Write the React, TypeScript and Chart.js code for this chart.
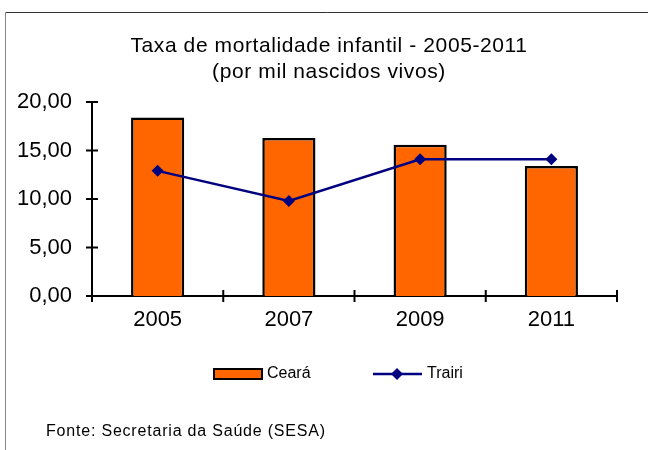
import React, { useEffect, useRef } from "react";
import { Chart, registerables } from "chart.js";

Chart.register(...registerables);

const categories = ["2005", "2007", "2009", "2011"];
const cearaValues = [18.4, 16.3, 15.6, 13.4];
const trairiValues = [12.9, 9.8, 14.1, 14.1];
const titleLines = ["Taxa de mortalidade infantil - 2005-2011", "(por mil nascidos vivos)"];
const seriesNames = ["Ceará", "Trairi"];
const footerText = "Fonte: Secretaria da Saúde (SESA)";

const ORANGE = "#FF6600";
const NAVY = "#000080";
const FONT = "'Liberation Sans', Arial, sans-serif";

const decorPlugin = {
  id: "decor",
  beforeDraw(chart: any) {
    const ctx = chart.ctx;
    ctx.save();
    ctx.fillStyle = "#fff";
    ctx.fillRect(0, 0, chart.width, chart.height);
    // frame
    ctx.lineWidth = 1;
    ctx.strokeStyle = "#333";
    ctx.beginPath();
    ctx.moveTo(5.5, 12.5);
    ctx.lineTo(chart.width, 12.5);
    ctx.stroke();
    ctx.strokeStyle = "#888";
    ctx.beginPath();
    ctx.moveTo(5.5, 12.5);
    ctx.lineTo(5.5, chart.height);
    ctx.stroke();
    // title
    ctx.fillStyle = "#000";
    ctx.font = `21px ${FONT}`;
    (ctx as any).letterSpacing = "0.6px";
    ctx.textAlign = "center";
    ctx.textBaseline = "middle";
    ctx.fillText(titleLines[0], 329, 46);
    ctx.fillText(titleLines[1], 329, 72);
    // footer
    ctx.textAlign = "left";
    ctx.font = `16px ${FONT}`;
    (ctx as any).letterSpacing = "0.8px";
    ctx.fillText(footerText, 46, 432);
    (ctx as any).letterSpacing = "0px";
    ctx.restore();
  },
  afterDraw(chart: any) {
    const ctx = chart.ctx;
    const xs = chart.scales.x;
    const ys = chart.scales.y;
    const area = chart.chartArea;
    ctx.save();
    ctx.strokeStyle = "#000";
    ctx.lineWidth = 2;
    // y tick marks crossing axis
    ys.ticks.forEach((t: any) => {
      const y = ys.getPixelForValue(t.value);
      ctx.beginPath();
      ctx.moveTo(area.left - 6, y);
      ctx.lineTo(area.left + 6, y);
      ctx.stroke();
    });
    // x tick marks at category boundaries
    const half = (xs.getPixelForValue(1) - xs.getPixelForValue(0)) / 2;
    for (let i = 0; i <= categories.length; i++) {
      const x = i < categories.length ? xs.getPixelForValue(i) - half : xs.getPixelForValue(categories.length - 1) + half;
      ctx.beginPath();
      ctx.moveTo(x, area.bottom - 6);
      ctx.lineTo(x, area.bottom + 6);
      ctx.stroke();
    }
    // legend
    const ly = 374;
    ctx.fillStyle = ORANGE;
    ctx.fillRect(214, 369, 48, 10);
    ctx.strokeStyle = "#000";
    ctx.lineWidth = 2;
    ctx.strokeRect(214, 369, 48, 10);
    ctx.fillStyle = "#000";
    ctx.font = `16px ${FONT}`;
    ctx.textAlign = "left";
    ctx.textBaseline = "middle";
    ctx.fillText(seriesNames[0], 267, ly);
    ctx.strokeStyle = NAVY;
    ctx.lineWidth = 2.5;
    ctx.beginPath();
    ctx.moveTo(373, ly);
    ctx.lineTo(422, ly);
    ctx.stroke();
    ctx.fillStyle = NAVY;
    ctx.beginPath();
    ctx.moveTo(397, ly - 6);
    ctx.lineTo(403, ly);
    ctx.lineTo(397, ly + 6);
    ctx.lineTo(391, ly);
    ctx.closePath();
    ctx.fill();
    ctx.fillStyle = "#000";
    ctx.fillText(seriesNames[1], 427, ly);
    ctx.restore();
  },
};

export default function App() {
  const ref = useRef<HTMLCanvasElement>(null);
  useEffect(() => {
    document.body.style.margin = "0";
    const chart = new Chart(ref.current as HTMLCanvasElement, {
      type: "bar",
      data: {
        labels: categories,
        datasets: [
          {
            type: "line",
            label: seriesNames[1],
            data: trairiValues,
            borderColor: NAVY,
            backgroundColor: NAVY,
            borderWidth: 2.5,
            pointStyle: "rectRot",
            pointRadius: 6,
            pointBackgroundColor: NAVY,
            pointBorderColor: NAVY,
            pointBorderWidth: 0,
            tension: 0,
            order: 0,
          } as any,
          {
            type: "bar",
            label: seriesNames[0],
            data: cearaValues,
            backgroundColor: ORANGE,
            borderColor: "#000",
            borderWidth: 2.5,
            categoryPercentage: 1,
            barPercentage: 0.405,
            order: 1,
          },
        ],
      },
      options: {
        responsive: false,
        animation: false,
        layout: { padding: { left: 0, right: 31, top: 102, bottom: 114 } },
        plugins: { legend: { display: false }, tooltip: { enabled: false }, title: { display: false } },
        scales: {
          x: {
            grid: { display: false, drawTicks: false },
            border: { display: true, color: "#000", width: 2 },
            ticks: { color: "#000", font: { family: FONT, size: 22 }, padding: 11, maxRotation: 0 },
            afterFit(scale: any) {
              scale.height = 40;
            },
          },
          y: {
            min: 0,
            max: 20,
            grid: { display: false, drawTicks: false },
            border: { display: true, color: "#000", width: 2 },
            ticks: {
              stepSize: 5,
              color: "#000",
              font: { family: FONT, size: 22 },
              padding: 20,
              callback: (v: any) => Number(v).toFixed(2).replace(".", ","),
            },
            afterFit(scale: any) {
              scale.width = 92;
            },
          },
        },
      },
      plugins: [decorPlugin],
    });
    return () => chart.destroy();
  }, []);
  return <canvas ref={ref} width={648} height={450} style={{ display: "block" }} />;
}
